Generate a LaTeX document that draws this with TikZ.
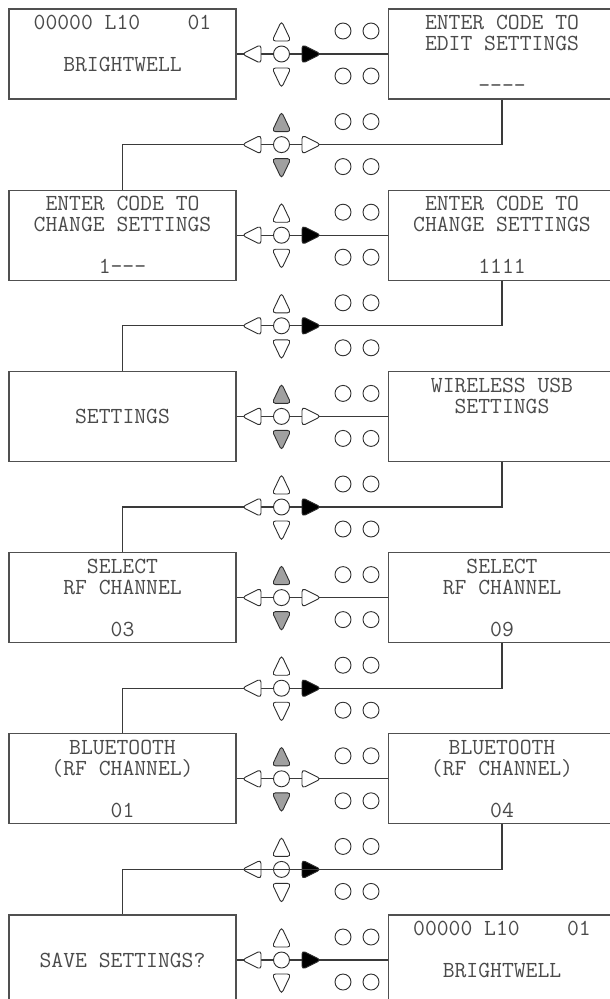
\documentclass[tikz,border=0pt]{standalone}
\usepackage{fontspec}
\definecolor{boxgray}{HTML}{505050}
\definecolor{txtgray}{HTML}{4A4A4A}
\definecolor{linegray}{HTML}{3A3A3A}
\definecolor{keyline}{HTML}{2E2E2E}
\definecolor{keygray}{HTML}{A0A0A0}
\begin{document}
\begin{tikzpicture}[x=1pt, y=-1pt,
		screen/.style={draw=boxgray, line width=1.1pt, minimum width=227pt, minimum height=90pt, inner sep=0pt, align=center, text=txtgray, font=\ttfamily\fontsize{23}{21}\selectfont},
		wire/.style={draw=linegray, line width=1.2pt},
		key/.style={draw=keyline, line width=0.9pt, fill=white, rounded corners=3.5pt}]
				\useasboundingbox (0,0) rectangle (610,999);
				\clip (0,0) rectangle (610,999);
				\fill[white] (0,0) rectangle (610,999);
				
				% screens
				\node[screen] (l1) at (122.5, 54) {00000 L10~~~~01\\[21pt]BRIGHTWELL\\\mbox{}};
				\node[screen] (r1) at (502, 54) {ENTER CODE TO\\EDIT SETTINGS\\[21pt]-{}-{}-{}-};
				\node[screen] (l2) at (122.5, 235.2) {ENTER CODE TO\\CHANGE SETTINGS\\[21pt]1-{}-{}-};
				\node[screen] (r2) at (502, 235.2) {ENTER CODE TO\\CHANGE SETTINGS\\[21pt]1111};
				\node[screen] (l3) at (122.5, 416.4) {SETTINGS};
				\node[screen] (r3) at (502, 416.4) {WIRELESS USB\\SETTINGS\\[21pt]\mbox{}};
				\node[screen] (l4) at (122.5, 597.6) {SELECT\\RF CHANNEL\\[21pt]03};
				\node[screen] (r4) at (502, 597.6) {SELECT\\RF CHANNEL\\[21pt]09};
				\node[screen] (l5) at (122.5, 778.8) {BLUETOOTH\\(RF CHANNEL)\\[21pt]01};
				\node[screen] (r5) at (502, 778.8) {BLUETOOTH\\(RF CHANNEL)\\[21pt]04};
				\node[screen] (l6) at (122.5, 960) {SAVE SETTINGS?};
				\node[screen] (r6) at (502, 960) {00000 L10~~~~01\\[21pt]BRIGHTWELL\\\mbox{}};
				
				% keypad centres between the rows
				\foreach \i/\y in {1/144.6, 2/325.8, 3/507, 4/688.2, 5/869.4}
					\coordinate (k\i) at (281.5, \y);
				
				% wires
				\foreach \i in {1,...,6}
					\draw[wire] (l\i.east) -- (r\i.west);
				\foreach \i/\j in {1/2, 2/3, 3/4, 4/5}
					\draw[wire] (r\i.south) |- (k\i) -| (l\j.north);
				
				% keypads
				\foreach \y/\ud/\rt in {54/white/black, 144.6/keygray/white, 235.2/white/black, 325.8/white/black,
						416.4/keygray/white, 507/white/black, 597.6/keygray/white, 688.2/white/black,
						778.8/keygray/white, 869.4/white/black, 960/white/black}{
					\draw[key, fill=\ud] (272, \y-13) -- (281.5, \y-33) -- (291, \y-13) -- cycle;
					\draw[key, fill=\ud] (272, \y+14) -- (281.5, \y+34) -- (291, \y+14) -- cycle;
					\draw[key] (261, \y-9.5) -- (242, \y) -- (261, \y+9.5) -- cycle;
					\draw[key] (281.5, \y) circle (8);
					\draw[key, fill=\rt] (302, \y-9.5) -- (321, \y) -- (302, \y+9.5) -- cycle;
					\foreach \x in {343, 371}{
						\draw[key] (\x, \y-23) circle (8);
						\draw[key] (\x, \y+22) circle (8);
					}
				}
				
				% last wire runs over its keypad
				\draw[wire] (r5.south) |- (k5) -| (l6.north);
				
\end{tikzpicture}
\end{document}
